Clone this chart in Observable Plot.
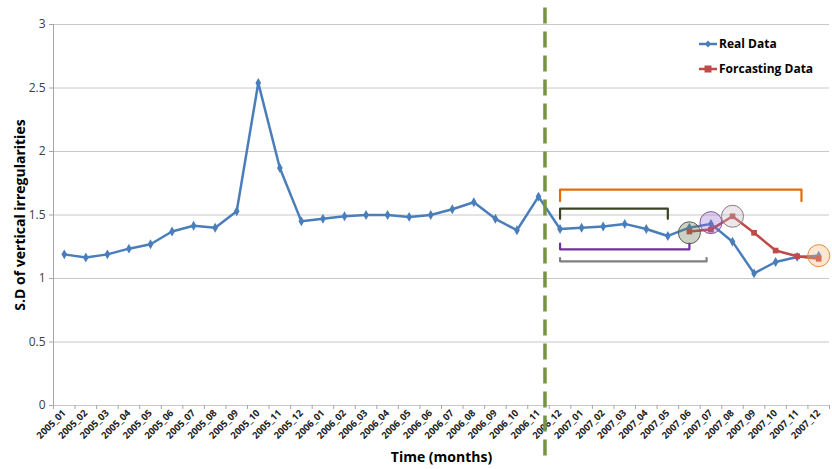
<!DOCTYPE html>
<html><head><meta charset="utf-8">
<script src="https://cdn.jsdelivr.net/npm/d3@7"></script>
<script src="https://cdn.jsdelivr.net/npm/@observablehq/plot@0.6"></script>
<style>
body{margin:0;background:#fff;}
#wrap{position:relative;width:832px;height:469px;overflow:hidden;}
#legend{position:absolute;left:699px;top:31px;font-family:"Open Sans",sans-serif;font-weight:bold;font-size:12px;color:#000;line-height:25px;}
#legend div{display:flex;align-items:center;white-space:nowrap;}
#legend svg{margin-right:1px;}
</style></head><body><div id="wrap"><div id="legend"></div></div>
<script>
const months = ["2005_01","2005_02","2005_03","2005_04","2005_05","2005_06","2005_07","2005_08","2005_09","2005_10","2005_11","2005_12",
"2006_01","2006_02","2006_03","2006_04","2006_05","2006_06","2006_07","2006_08","2006_09","2006_10","2006_11","2006_12",
"2007_01","2007_02","2007_03","2007_04","2007_05","2007_06","2007_07","2007_08","2007_09","2007_10","2007_11","2007_12"];
const realData = [1.19,1.165,1.19,1.235,1.27,1.37,1.415,1.40,1.53,2.54,1.87,1.45,
1.47,1.49,1.50,1.50,1.485,1.50,1.545,1.60,1.47,1.38,1.645,1.39,
1.40,1.41,1.43,1.39,1.335,1.40,1.43,1.29,1.04,1.13,1.17,1.18];
const forecastMonths = ["2007_06","2007_07","2007_08","2007_09","2007_10","2007_11","2007_12"];
const forecastData = [1.37,1.385,1.49,1.36,1.22,1.175,1.155];
const yTicks = [0,0.5,1,1.5,2,2.5,3];
const dividerAt = 22.3; // position between 2006_11 and 2006_12
// annotation brackets: start index, end index, level, hook end
const bracketStart = [23,23,23,23];
const bracketEnd = [34.2,28,29,29.8];
const bracketLevel = [1.70,1.55,1.23,1.135];
const bracketHook = [1.61,1.47,1.275,1.16];
const bracketColor = ["#E46C0A","#3B4526","#7030A0","#7F7F7F"];
// highlight circles
const circleMonths = ["2007_06","2007_07","2007_08","2007_12"];
const circleValues = [1.36,1.44,1.49,1.18];
const circleFill = ["rgba(110,125,90,0.35)","rgba(150,100,210,0.3)","rgba(200,185,195,0.35)","rgba(250,185,130,0.35)"];
const circleStroke = ["#5a5f50","#7a5a9a","#8a7a80","#E88A3A"];

const idx = m => months.indexOf(m);
const real = months.map((m,i)=>({x:i,y:realData[i]}));
const fc = forecastMonths.map((m,i)=>({x:idx(m),y:forecastData[i]}));
const brackets = bracketStart.flatMap((s,i)=>[
  {b:i,x:s,y:bracketHook[i]},{b:i,x:s,y:bracketLevel[i]},{b:i,x:bracketEnd[i],y:bracketLevel[i]},{b:i,x:bracketEnd[i],y:bracketHook[i]}]);
const circles = circleMonths.map((m,i)=>({x:idx(m),y:circleValues[i],f:circleFill[i],s:circleStroke[i]}));

const font = "'Open Sans', sans-serif";
const chart = Plot.plot({
  width:832, height:469,
  marginLeft:53, marginRight:3, marginTop:24, marginBottom:64,
  style:{fontFamily:font, background:"#fff"},
  x:{type:"linear", domain:[-0.5,35.5]},
  y:{domain:[0,3]},
  marks:[
    Plot.ruleY(yTicks,{stroke:"#C8C8C8", strokeWidth:1}),
    Plot.ruleX([-0.5],{stroke:"#A6A6A6"}),
    Plot.axisY({ticks:yTicks, tickSize:4, tickPadding:4, tickFormat:d=>String(d), fontSize:12, color:"#404040", stroke:"#A6A6A6", label:null}),
    Plot.axisX({ticks:d3.range(-0.5,36,1), tickSize:4, tickFormat:()=>"", stroke:"#A6A6A6", label:null}),
    Plot.axisX({ticks:d3.range(0,36), tickSize:0, tickPadding:6, tickRotate:-45, tickFormat:i=>months[i], fontSize:9.5, fontWeight:"bold", fill:"#222", label:null}),
    Plot.text(["S.D of vertical irregularities"],{frameAnchor:"left", textAnchor:"middle", rotate:-90, dx:-33, fontWeight:"bold", fontSize:14, fill:"#000"}),
    Plot.text(["Time (months)"],{frameAnchor:"bottom", dy:56, fontWeight:"bold", fontSize:14, fill:"#000"}),
    Plot.line(brackets,{x:"x",y:"y",z:"b",stroke:d=>bracketColor[d.b],strokeWidth:2.2}),
    Plot.line(real,{x:"x",y:"y",stroke:"#4A7EBB",strokeWidth:2.5}),
    Plot.dot(real,{x:"x",y:"y",symbol:"diamond",r:3,fill:"#4A7EBB"}),
    Plot.line(fc,{x:"x",y:"y",stroke:"#BE4B48",strokeWidth:2.5}),
    Plot.dot(fc,{x:"x",y:"y",symbol:"square",r:3.2,fill:"#BE4B48"}),
    Plot.dot(circles,{x:"x",y:"y",r:11,fill:d=>d.f,stroke:d=>d.s,strokeWidth:1}),
    Plot.ruleX([dividerAt],{y1:3.13,y2:-0.46,stroke:"#77933C",strokeWidth:3.5,strokeDasharray:"16,8"}),
  ]
});
chart.style.overflow="visible";
document.getElementById("wrap").prepend(chart);

const legendItems = [["Real Data","#4A7EBB","diamond"],["Forcasting Data","#BE4B48","square"]];
const lg = document.getElementById("legend");
legendItems.forEach(([t,c,s])=>{
  const d=document.createElement("div");
  const mk = s==="diamond" ? `<path d="M9 2.5 L12 6 L9 9.5 L6 6 Z" fill="${c}"/>` : `<rect x="5.5" y="2.5" width="7" height="7" fill="${c}"/>`;
  d.innerHTML=`<svg width="19" height="12"><line x1="0" x2="18" y1="6" y2="6" stroke="${c}" stroke-width="2.5"/>${mk}</svg><span>${t}</span>`;
  lg.appendChild(d);
});
</script></body></html>
